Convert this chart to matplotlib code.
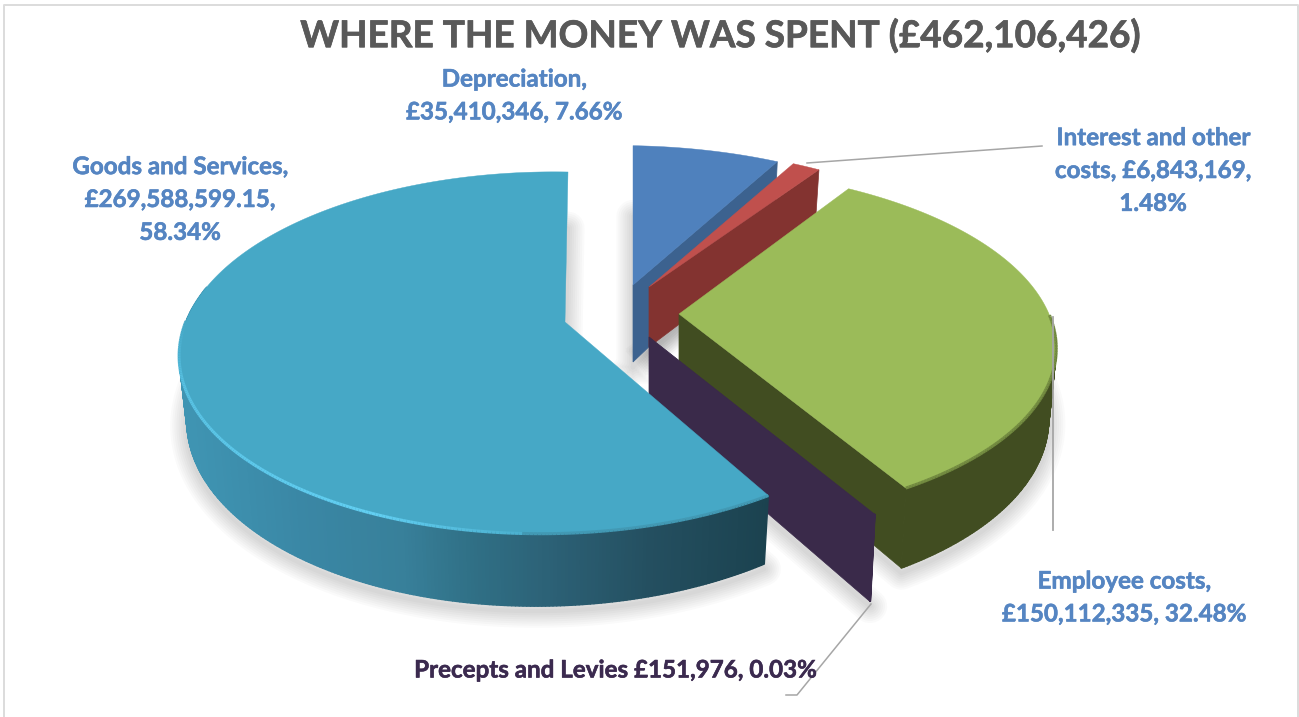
import numpy as np
import matplotlib
matplotlib.use("Agg")
import matplotlib.pyplot as plt
import matplotlib.patheffects as pe
from matplotlib.collections import PolyCollection, LineCollection
from matplotlib.colors import to_rgb

plt.rcParams['font.family'] = ['Lato', 'DejaVu Sans']

# data
categories = ["Depreciation", "Interest and other costs", "Employee costs", "Precepts and Levies", "Goods and Services"]
values = [35410346, 6843169, 150112335, 151976, 269588599.15]
title = "WHERE THE MONEY WAS SPENT (£462,106,426)"
labels = ["Depreciation,\n£35,410,346, 7.66%",
          "Interest and other\ncosts, £6,843,169,\n1.48%",
          "Employee costs,\n£150,112,335, 32.48%",
          "Precepts and Levies £151,976, 0.03%",
          "Goods and Services,\n£269,588,599.15,\n58.34%"]

# look of each slice
top_colors = ["#4f81bd", "#c0504d", "#9bbb59", "#3a2a4a", "#46a8c6"]
side_colors = ["#3c628f", "#833330", "#414d21", "#3a2a4a", "#2c6478"]
label_colors = ["#5585c2", "#5585c2", "#5585c2", "#3b2a4f", "#5585c2"]
label_pos = [(514, 95.5), (1153, 170.5), (1124, 597.5), (615, 670), (180, 199.5)]
# apex x, apex y, f, g, k, m, s, h  (exploded position + perspective of each slice)
geom = [(633, 285, 365, 163, .17, .045, 0, 77),
        (649, 287, 365, 163, .17, .045, 0, 60),
        (679, 314, 370, 171, .174, 0, -8, 68),
        (649, 337, 384, 175, .17, 0, 0, 74),
        (565, 322, 362, 175.5, .17, .0457, 3.5, 60)]
draw_order = [0, 1, 2, 3, 4]
teal_x = [190, 300, 400, 470, 550, 650, 770]
teal_side = ["#3f94b2", "#3a87a5", "#38809a", "#307086", "#2c6176", "#244f60", "#1b424f"]


def project(i, theta, z=0.0):
    cx, cy, f, g, k, m, s, h = geom[i]
    X, Y = np.sin(theta), np.cos(theta)
    w = 1 + k*Y + m*X
    x = cx + (f*X + s*Y)/w
    y = cy - g*Y/w
    x = x - 0.02*z*(x - cx)
    y = y + z*h/w
    return x, y


def mix(c1, c2, t):
    return tuple(np.array(to_rgb(c1))*(1 - t) + np.array(to_rgb(c2))*t)


fig = plt.figure(figsize=(12.99, 7.17), dpi=100)
ax = fig.add_axes([0, 0, 1, 1])
ax.set_xlim(0, 1299)
ax.set_ylim(717, 0)
ax.axis("off")

# frame
ax.plot([4.5, 4.5, 1298, 1298], [717, 4.5, 4.5, 717], color="#dcdcdc", lw=1.4, zorder=1)

fracs = np.array(values)/np.sum(values)
edges = np.concatenate([[0], np.cumsum(fracs)])*2*np.pi

# soft shadow
for i in range(5):
    th = np.linspace(edges[i], edges[i+1], 200)
    xb, yb = project(i, th, 1)
    cx, cy = geom[i][0], geom[i][1] + geom[i][7]
    xs = np.r_[cx, xb, cx]
    ys = np.r_[cy, yb, cy] + 5
    for lw in range(24, 1, -3):
        ax.plot(xs, ys, color="black", alpha=0.018, lw=lw, zorder=2, solid_joinstyle="round")

zo = 3
for i in draw_order:
    cx, cy, f, g, k, m, s, h = geom[i]
    th = np.linspace(edges[i], edges[i+1], max(int(np.degrees(edges[i+1] - edges[i])*2), 4))
    xt, yt = project(i, th, 0)
    xb, yb = project(i, th, 1)

    # radial face on the clockwise end, when it looks at the viewer
    if i != 4:
        ax.fill([cx, xt[-1], xb[-1], cx], [cy, yt[-1], yb[-1], cy + h],
                color=side_colors[i], lw=0.5, zorder=zo)

    # outer side
    front = np.cos(th) < (0.2 if i == 4 else -0.02)
    quads, cols = [], []
    for j in range(len(th) - 1):
        if front[j] and front[j+1]:
            quads.append([(xt[j], yt[j]), (xt[j+1], yt[j+1]), (xb[j+1], yb[j+1]), (xb[j], yb[j])])
            if i == 4:
                mx = 0.5*(xt[j] + xt[j+1])
                rgb = [np.interp(mx, teal_x, [to_rgb(c)[n] for c in teal_side]) for n in range(3)]
                cols.append(rgb)
            else:
                cols.append(to_rgb(side_colors[i]))
    if quads:
        ax.add_collection(PolyCollection(quads, facecolors=cols, edgecolors=cols, linewidths=1.0, zorder=zo))

    # top surface
    ax.fill(np.r_[cx, xt], np.r_[cy, yt], color=top_colors[i], lw=0.3, zorder=zo + 0.1)

    # bevel along the rim
    segs, bcols = [], []
    for j in range(len(th) - 1):
        deg = np.degrees(th[j])
        if np.cos(th[j]) > 0.0:
            continue
        segs.append([(xt[j], yt[j]), (xt[j+1], yt[j+1])])
        if i == 4:
            t = np.interp(deg, [185, 205, 225, 250, 270], [.2, 1, .85, .65, 0])
            if deg < 185:
                bcols.append(mix("#3c8299", top_colors[i], 0.6))
            else:
                bcols.append(mix(top_colors[i], "#62cff2", t))
        else:
            bcols.append(mix(side_colors[i], top_colors[i], 0.55))
    if segs:
        ax.add_collection(LineCollection(segs, colors=bcols, linewidths=2.2, zorder=zo + 0.2))
    zo += 1

# leader lines
leader = "#a6a6a6"
ax.plot([807, 1042], [163, 146], color=leader, lw=1.1, zorder=20)
ax.plot([1053, 1053], [317, 530], color=leader, lw=1.3, zorder=20)
ax.plot([871, 797, 786], [604, 695, 695], color=leader, lw=1.1, zorder=20)

# text
ax.text(720, 36, title, ha="center", va="center", fontsize=26.6, fontweight="bold", color="#595959", zorder=30,
        path_effects=[pe.withStroke(linewidth=0.5, foreground="#595959")])
for lab, (lx, ly), c in zip(labels, label_pos, label_colors):
    ax.text(lx, ly, lab, ha="center", va="center", fontsize=17.4, fontweight="bold",
            color=c, linespacing=1.52, zorder=30,
            path_effects=[pe.withStroke(linewidth=0.4, foreground=c)])

fig.savefig("out.png", dpi=100)
